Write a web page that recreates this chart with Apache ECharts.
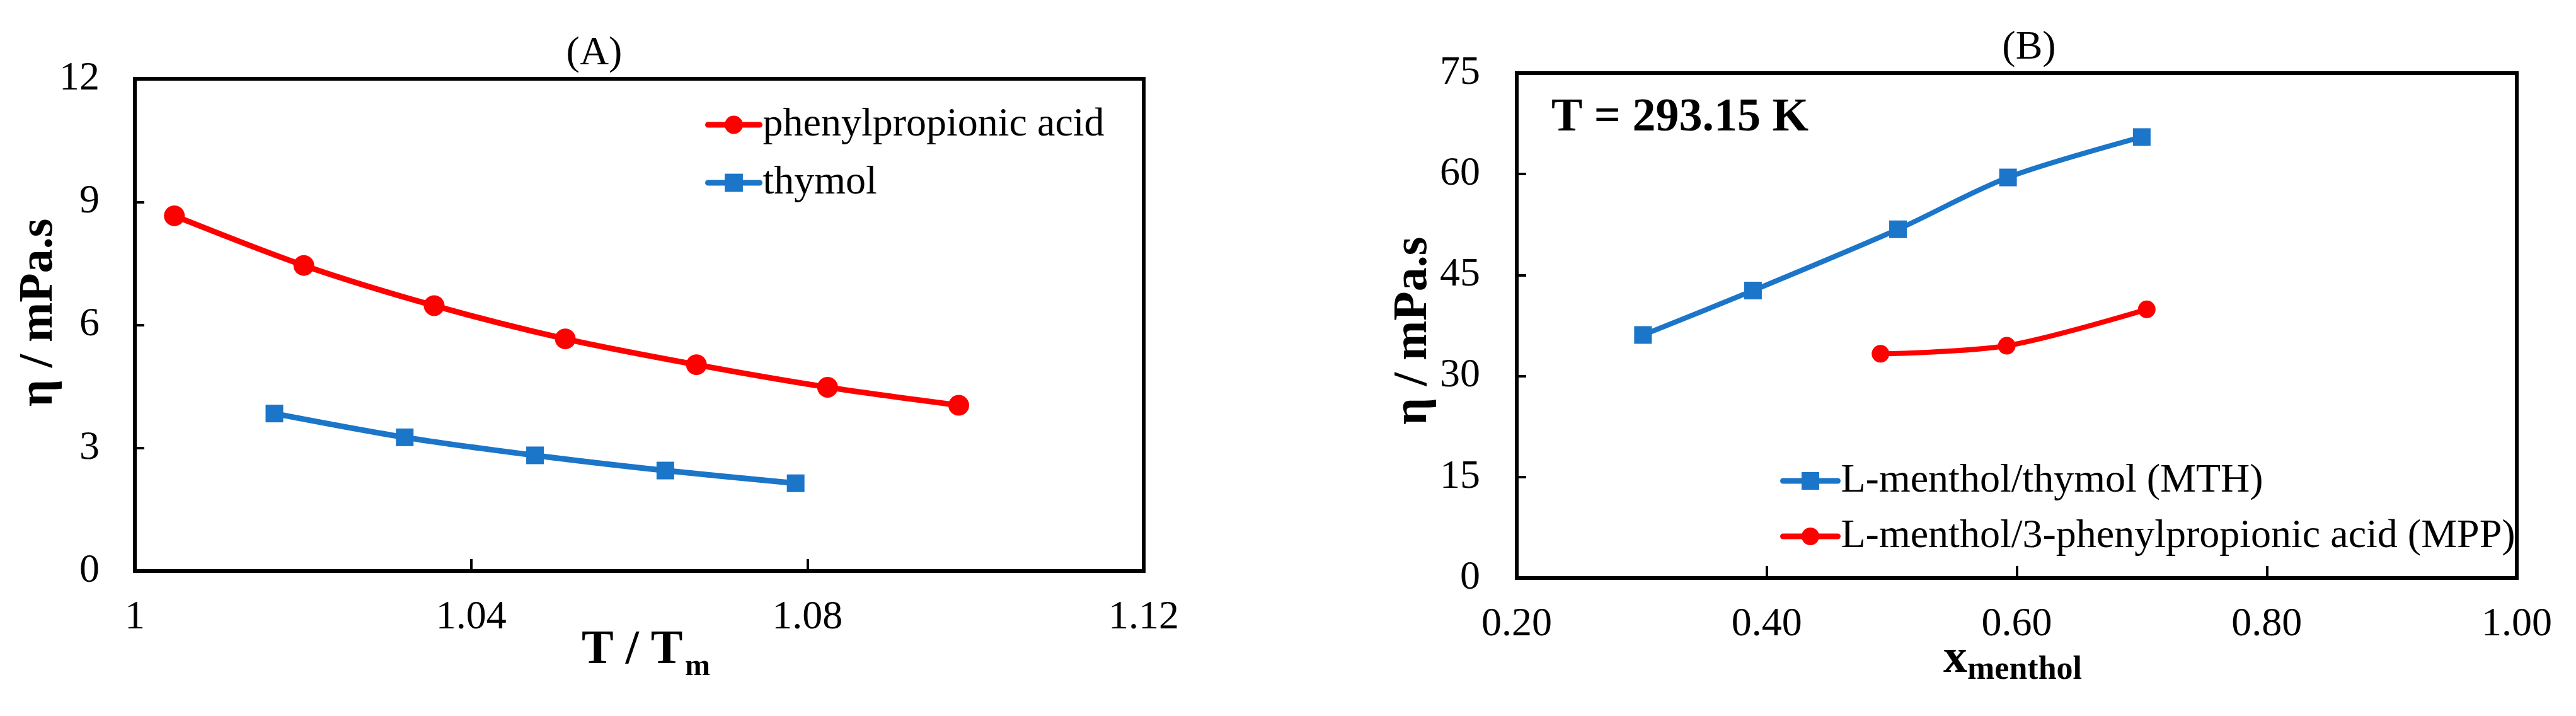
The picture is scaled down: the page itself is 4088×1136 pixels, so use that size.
<!DOCTYPE html>
<html>
<head>
<meta charset="utf-8">
<script src="https://cdn.jsdelivr.net/npm/echarts@6/dist/echarts.min.js"></script>
<style>
html,body{margin:0;padding:0;background:#fff;}
#chart{width:4088px;height:1136px;}
</style>
</head>
<body>
<div id="chart"></div>
<script>
// ---- Panel A data ----
const aPhenylX = [1.0047, 1.0201, 1.0356, 1.0512, 1.0668, 1.0824, 1.0980];
const aPhenylY = [8.66, 7.45, 6.47, 5.66, 5.03, 4.48, 4.04];
const aThymolX = [1.0166, 1.0321, 1.0476, 1.0631, 1.0786];
const aThymolY = [3.84, 3.26, 2.82, 2.45, 2.14];
const aXTicks = ['1', '1.04', '1.08', '1.12'];
const aYTicks = ['0', '3', '6', '9', '12'];
// ---- Panel B data ----
const bMthX = [0.301, 0.389, 0.505, 0.593, 0.700];
const bMthY = [36.1, 42.7, 51.8, 59.5, 65.5];
const bMppX = [0.491, 0.592, 0.704];
const bMppY = [33.3, 34.5, 39.9];
const bXTicks = ['0.20', '0.40', '0.60', '0.80', '1.00'];
const bYTicks = ['0', '15', '30', '45', '60', '75'];

const names = {
  aRed: 'phenylpropionic acid',
  aBlue: 'thymol',
  bBlue: 'L-menthol/thymol (MTH)',
  bRed: 'L-menthol/3-phenylpropionic acid (MPP)'
};

const SERIF = '"Liberation Serif", "Times New Roman", serif';
const RED = '#FF0000';
const BLUE = '#1B75C8';

function pairs(xs, ys) { return xs.map((x, i) => [x, ys[i]]); }

function axisCommon(ticks, margin, tickLen) {
  return {
    axisLine: { show: true, lineStyle: { color: '#000', width: 6 } },
    axisTick: { show: true, inside: true, length: tickLen, lineStyle: { color: '#000', width: 4 } },
    splitLine: { show: false },
    axisLabel: {
      margin: margin,
      color: '#000',
      fontFamily: SERIF,
      fontSize: 64,
      lineHeight: 64,
      formatter: function (v, i) { return ticks[i] !== undefined ? ticks[i] : String(v); }
    }
  };
}

const chart = echarts.init(document.getElementById('chart'), null, { renderer: 'canvas' });

const option = {
  backgroundColor: '#fff',
  animation: false,
  grid: [
    { left: 214, top: 125, width: 1601, height: 781, show: true, borderColor: '#000', borderWidth: 6, containLabel: false },
    { left: 2407, top: 116, width: 1587, height: 801, show: true, borderColor: '#000', borderWidth: 6, containLabel: false }
  ],
  xAxis: [
    Object.assign({ type: 'value', gridIndex: 0, min: 1, max: 1.12, interval: 0.04 }, axisCommon(aXTicks, 42, 19)),
    Object.assign({ type: 'value', gridIndex: 1, min: 0.2, max: 1.0, interval: 0.2 }, axisCommon(bXTicks, 42, 19))
  ],
  yAxis: [
    Object.assign({ type: 'value', gridIndex: 0, min: 0, max: 12, interval: 3 }, axisCommon(aYTicks, 56, 15)),
    Object.assign({ type: 'value', gridIndex: 1, min: 0, max: 75, interval: 15 }, axisCommon(bYTicks, 58, 15))
  ],
  legend: [
    {
      data: [names.aRed, names.aBlue],
      orient: 'vertical', left: 1114, top: 161,
      itemWidth: 82, itemHeight: 36, itemGap: 28,
      lineStyle: { width: 9, cap: 'round' },
      textStyle: { fontFamily: SERIF, fontSize: 64, lineHeight: 64, color: '#000' },
      selectedMode: false
    },
    {
      data: [names.bBlue, names.bRed],
      orient: 'vertical', left: 2820, top: 726,
      itemWidth: 87, itemHeight: 35, itemGap: 24,
      lineStyle: { width: 9, cap: 'round' },
      textStyle: { fontFamily: SERIF, fontSize: 64, lineHeight: 64, color: '#000' },
      selectedMode: false
    }
  ],
  series: [
    {
      name: names.aRed, type: 'line', xAxisIndex: 0, yAxisIndex: 0,
      data: pairs(aPhenylX, aPhenylY), smooth: 0.3,
      symbol: 'circle', symbolSize: 33,
      lineStyle: { color: RED, width: 9 }, itemStyle: { color: RED }
    },
    {
      name: names.aBlue, type: 'line', xAxisIndex: 0, yAxisIndex: 0,
      data: pairs(aThymolX, aThymolY), smooth: 0.3,
      symbol: 'rect', symbolSize: 28,
      lineStyle: { color: BLUE, width: 9 }, itemStyle: { color: BLUE }
    },
    {
      name: names.bBlue, type: 'line', xAxisIndex: 1, yAxisIndex: 1,
      data: pairs(bMthX, bMthY), smooth: 0.3,
      symbol: 'rect', symbolSize: 28,
      lineStyle: { color: BLUE, width: 8 }, itemStyle: { color: BLUE }
    },
    {
      name: names.bRed, type: 'line', xAxisIndex: 1, yAxisIndex: 1,
      data: pairs(bMppX, bMppY), smooth: 0.3,
      symbol: 'circle', symbolSize: 28,
      lineStyle: { color: RED, width: 8 }, itemStyle: { color: RED }
    }
  ],
  graphic: [
    { type: 'text', x: 943, y: 85, style: { text: '(A)', font: '64px ' + SERIF, fill: '#000', align: 'center', verticalAlign: 'middle' } },
    { type: 'text', x: 3220, y: 76, style: { text: '(B)', font: '64px ' + SERIF, fill: '#000', align: 'center', verticalAlign: 'middle' } },
    { type: 'text', x: 2462, y: 188, style: { text: 'T = 293.15 K', font: 'bold 74px ' + SERIF, fill: '#000', align: 'left', verticalAlign: 'middle' } },
    // Panel A axis names
    { type: 'text', x: 62, y: 496, rotation: Math.PI / 2, style: { text: 'η / mPa.s', font: 'bold 76px ' + SERIF, fill: '#000', align: 'center', verticalAlign: 'middle' } },
    { type: 'text', x: 923, y: 1032, style: { text: 'T / T', font: 'bold 76px ' + SERIF, fill: '#000', align: 'left', verticalAlign: 'middle' } },
    { type: 'text', x: 1087, y: 1059, style: { text: 'm', font: 'bold 48px ' + SERIF, fill: '#000', align: 'left', verticalAlign: 'middle' } },
    // Panel B axis names
    { type: 'text', x: 2243, y: 525, rotation: Math.PI / 2, style: { text: 'η / mPa.s', font: 'bold 76px ' + SERIF, fill: '#000', align: 'center', verticalAlign: 'middle' } },
    { type: 'text', x: 3084, y: 1046, style: { text: 'x', font: 'bold 76px ' + SERIF, fill: '#000', align: 'left', verticalAlign: 'middle' } },
    { type: 'text', x: 3122, y: 1064, style: { text: 'menthol', font: 'bold 52px ' + SERIF, fill: '#000', align: 'left', verticalAlign: 'middle' } }
  ]
};

chart.setOption(option);
</script>
</body>
</html>
